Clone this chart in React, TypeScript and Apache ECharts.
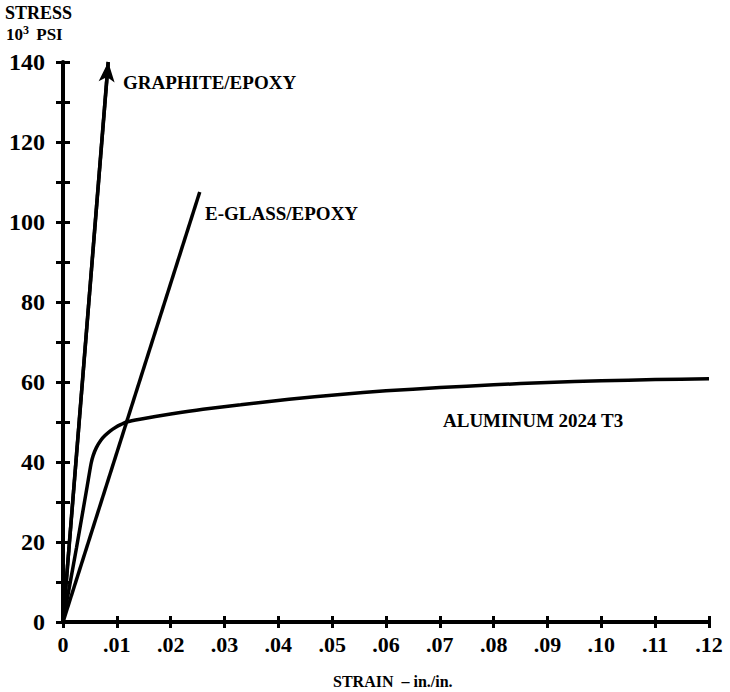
import React, { useEffect, useRef } from "react";
import * as echarts from "echarts";

const X_TICK_LABELS = ["0", ".01", ".02", ".03", ".04", ".05", ".06", ".07", ".08", ".09", ".10", ".11", ".12"];
const Y_TICK_LABELS = ["0", "20", "40", "60", "80", "100", "120", "140"];

const GRAPHITE_EPOXY: [number, number][] = [
  [0, 0],
  [0.0084, 140],
];
const E_GLASS_EPOXY: [number, number][] = [
  [0, 0],
  [0.0254, 107.5],
];
const ALUMINUM_2024_T3: [number, number][] = [
  [0, 0],
  [0.0025, 18.5],
  [0.0045, 34],
  [0.0052, 39.5],
  [0.0056, 41.6],
  [0.0062, 43.6],
  [0.007, 45.4],
  [0.0078, 46.6],
  [0.0088, 47.8],
  [0.0098, 48.7],
  [0.0108, 49.4],
  [0.0118, 50],
  [0.0143, 50.7],
  [0.02, 52],
  [0.026, 53.2],
  [0.033, 54.3],
  [0.042, 55.7],
  [0.0515, 56.9],
  [0.06, 57.8],
  [0.07, 58.6],
  [0.08, 59.3],
  [0.09, 59.9],
  [0.1, 60.3],
  [0.11, 60.6],
  [0.12, 60.8],
];

const FONT = "'Liberation Serif', 'DejaVu Serif', serif";

export default function App() {
  const ref = useRef<HTMLDivElement>(null);
  useEffect(() => {
    if (!ref.current) return;
    const chart = echarts.init(ref.current, null, { renderer: "svg" });
    const lineStyle = { color: "#000", width: 3.5 };
    const tickStyle = { color: "#000", width: 3 };
    chart.setOption({
      animation: false,
      backgroundColor: "#fff",
      grid: { left: 63, right: 21, top: 62, bottom: 70 },
      xAxis: [
        {
          type: "value",
          min: 0,
          max: 0.12,
          interval: 0.01,
          axisLine: { show: true, lineStyle: { color: "#000", width: 4 } },
          axisTick: { show: true, inside: false, length: 6, lineStyle: tickStyle },
          axisLabel: {
            margin: 11,
            color: "#000",
            fontFamily: FONT,
            fontWeight: "bold",
            fontSize: 22,
            formatter: (_v: number, i: number) => X_TICK_LABELS[i] ?? "",
          },
          splitLine: { show: false },
        },
        {
          type: "value",
          position: "bottom",
          min: 0,
          max: 0.12,
          interval: 0.01,
          axisLine: { show: false },
          axisTick: { show: true, inside: true, length: 6, lineStyle: tickStyle },
          axisLabel: { show: false },
          splitLine: { show: false },
        },
      ],
      yAxis: [
        {
          type: "value",
          min: 0,
          max: 140,
          interval: 10,
          axisLine: { show: true, lineStyle: { color: "#000", width: 4 } },
          axisTick: { show: true, inside: false, length: 7, lineStyle: tickStyle },
          axisLabel: {
            margin: 18,
            color: "#000",
            fontFamily: FONT,
            fontWeight: "bold",
            fontSize: 24,
            formatter: (v: number) => (v % 20 === 0 ? Y_TICK_LABELS[v / 20] : ""),
          },
          splitLine: { show: false },
        },
        {
          type: "value",
          position: "left",
          min: 0,
          max: 140,
          interval: 10,
          axisLine: { show: false },
          axisTick: { show: true, inside: true, length: 7, lineStyle: tickStyle },
          axisLabel: { show: false },
          splitLine: { show: false },
        },
      ],
      series: [
        {
          name: "GRAPHITE/EPOXY",
          type: "line",
          data: GRAPHITE_EPOXY,
          symbol: "none",
          lineStyle,
          silent: true,
          clip: false,
          markLine: {
            silent: true,
            symbol: ["none", "arrow"],
            symbolSize: [12, 20],
            label: { show: false },
            emphasis: { disabled: true },
            lineStyle: { color: "#000", width: 3.5, type: "solid" },
            data: [[{ coord: GRAPHITE_EPOXY[0] }, { coord: GRAPHITE_EPOXY[1] }]],
          },
        },
        {
          name: "E-GLASS/EPOXY",
          type: "line",
          data: E_GLASS_EPOXY,
          symbol: "none",
          lineStyle,
          silent: true,
        },
        {
          name: "ALUMINUM 2024 T3",
          type: "line",
          data: ALUMINUM_2024_T3,
          symbol: "none",
          smooth: 0.2,
          lineStyle,
          silent: true,
        },
      ],
      graphic: [
        {
          type: "text",
          left: 5,
          top: 4,
          style: { text: "STRESS", fill: "#000", font: `bold 18px ${FONT}` },
        },
        {
          type: "text",
          left: 6,
          top: 24,
          style: {
            text: "10{sup|3} PSI",
            fill: "#000",
            font: `bold 17px ${FONT}`,
            rich: {
              sup: { fontSize: 12, fontWeight: "bold", fontFamily: FONT, verticalAlign: "top", padding: [0, 3, 8, 0] },
            },
          },
        },
        {
          type: "text",
          x: 123,
          y: 82,
          style: { text: "GRAPHITE/EPOXY", fill: "#000", font: `bold 19px ${FONT}`, verticalAlign: "middle" },
        },
        {
          type: "text",
          x: 205,
          y: 213,
          style: { text: "E-GLASS/EPOXY", fill: "#000", font: `bold 19px ${FONT}`, verticalAlign: "middle" },
        },
        {
          type: "text",
          x: 443,
          y: 420,
          style: { text: "ALUMINUM 2024 T3", fill: "#000", font: `bold 19px ${FONT}`, verticalAlign: "middle" },
        },
        {
          type: "text",
          x: 333,
          y: 681,
          style: { text: "STRAIN  \u2013 in./in.", fill: "#000", font: `bold 16px ${FONT}`, verticalAlign: "middle" },
        },
      ],
    });
    return () => chart.dispose();
  }, []);
  return (
    <div
      ref={ref}
      style={{ position: "fixed", left: 0, top: 0, width: 730, height: 692, background: "#fff" }}
    />
  );
}
